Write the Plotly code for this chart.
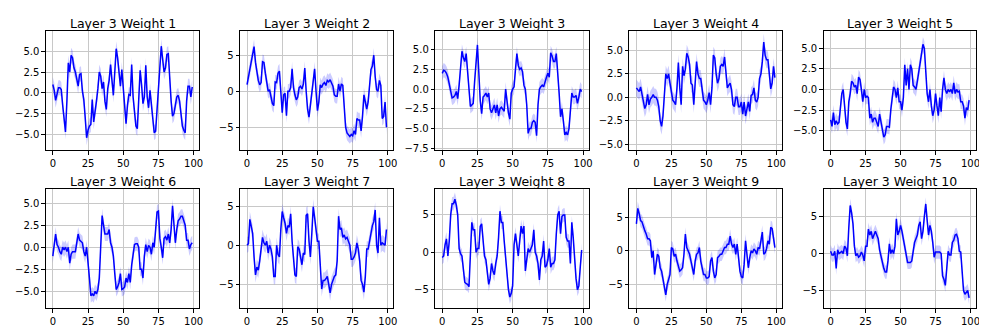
import plotly.graph_objects as go
from plotly.subplots import make_subplots

steps = list(range(100))

weight_1 = [1.0, 0.3, -0.9, -0.3, 0.6, 0.6, 0.4, -1.5, -3.5, -4.7,
            -1.0, 3.6, 2.5, 4.5, 4.2, 3.0, 2.5, 1.5, 0.8, 2.2,
            2.3, 0.2, -0.8, -3.0, -5.4, -4.5, -4.0, -3.8, -0.8, -3.5,
            -2.5, -1.0, 0.5, 2.5, 2.0, 0.5, 1.3, -1.0, -2.0, 0.5,
            1.5, 3.4, 1.5, -0.3, 2.5, 5.3, 4.2, 2.0, 0.8, 2.8,
            0.5, -1.5, -3.7, -1.5, -0.2, -0.3, 3.4, -0.5, -2.5, -4.0,
            -4.3, -1.5, 2.7, 1.0, -1.3, -0.5, 3.3, -0.5, -1.8, 0.3,
            -1.5, -3.5, -4.8, -4.6, -2.0, 1.5, 3.5, 5.6, 4.0, 2.5,
            3.0, 4.6, 4.7, 1.5, -1.0, -2.8, -2.5, -1.5, -0.5, -0.3,
            -1.0, -2.5, -4.0, -4.5, -4.8, -1.0, 0.8, 0.8, -0.5, 0.7]

weight_2 = [0.9, 2.0, 3.0, 4.0, 5.5, 6.2, 4.0, 2.5, 1.5, 0.9,
            1.2, 4.1, 4.0, 2.5, 1.0, 0.0, 0.2, -1.0, -1.7, -2.0,
            1.3, 1.2, 2.5, 2.8, -0.5, -3.0, -0.5, -0.3, -3.4, 0.0,
            0.0, 0.5, 3.1, 0.5, -0.5, -1.2, -0.8, 0.5, 0.7, 0.3,
            1.0, 3.2, 0.0, -2.5, -3.6, -2.0, -0.5, 1.0, 3.1, 0.0,
            -2.7, -1.5, 0.9, 0.5, 1.0, 1.2, 0.8, 1.5, 1.3, 1.6,
            1.0, 0.7, -0.5, -0.7, -0.7, 1.0, 0.0, 1.0, 0.8, -2.0,
            -5.0, -5.8, -6.0, -6.3, -6.0, -6.2, -5.5, -6.0, -3.8, -4.0,
            -4.0, -5.5, -3.5, -0.5, -1.5, -2.5, -1.5, 1.0, 3.0, 3.5,
            5.0, 2.0, 0.2, 0.0, 1.5, 0.8, -3.8, -3.5, -1.5, -5.0]

weight_3 = [2.0, 2.4, 2.3, 2.0, 1.5, 0.5, -0.5, -1.1, -1.0, -0.8,
            -0.3, -1.2, 0.5, 2.5, 4.8, 4.0, 3.5, 4.5, 2.5, 0.5,
            -2.2, -2.0, -1.8, 1.0, 4.0, 5.6, 2.0, -1.5, -3.1, -1.0,
            -0.8, -0.5, -1.0, -0.5, -2.5, -3.0, -2.5, -2.0, -3.0, -2.0,
            -3.4, -2.5, -2.3, -2.5, -2.8, 0.0, -2.0, -3.0, -3.8, -0.5,
            0.0, 0.3, 2.5, 4.5, 3.0, 2.5, 2.7, 2.2, 0.5, 0.0,
            -2.0, -5.6, -5.0, -5.0, -4.2, -4.0, -4.2, -5.9, -2.0, 0.0,
            0.3, 0.5, 0.3, 1.0, 1.5, 2.0, 1.5, 4.6, 4.2, 3.5,
            3.5, 4.5, 2.5, -0.5, -3.5, -2.5, -4.0, -5.8, -5.5, -5.8,
            -5.0, -3.0, -0.5, -1.0, -1.0, -0.8, -1.8, -1.0, 0.0, -0.3]

weight_4 = [1.0, 0.8, 0.6, 1.1, 0.3, -0.5, -1.2, -0.8, 0.3, -0.8,
            -0.2, 0.0, 0.3, 0.0, 0.0, -0.3, -1.0, -2.5, -3.1, -2.0,
            1.0, 2.5, 2.0, 2.5, 1.5, 0.3, -0.3, -0.5, -0.8, 1.0,
            3.7, 1.0, -0.8, 3.3, 2.3, 3.0, 4.7, 4.3, 3.5, 1.5,
            1.3, -0.8, 2.0, 3.8, 2.5, 2.0, 2.0, 0.5, -0.3, -0.5,
            -0.8, -0.3, 0.5, -0.8, 1.0, 4.5, 4.2, 2.5, 1.5, 2.0,
            3.3, 3.5, 3.3, 4.3, 2.5, 1.0, 1.3, 1.5, 0.8, -0.8,
            -1.0, 0.0, 0.0, -1.0, -1.0, -0.5, -1.8, -0.5, -2.0, -1.0,
            -0.5, -1.5, 0.2, 0.3, 1.0, -0.3, -0.5, 0.0, 2.0, 2.5,
            3.8, 5.9, 4.5, 4.0, 4.0, 2.5, 0.9, 1.5, 3.3, 2.1]

weight_5 = [-3.7, -4.5, -2.8, -4.3, -3.8, -4.2, -4.0, -2.5, -0.5, 0.0,
            -2.0, -4.0, -4.8, -1.5, -0.5, 1.0, 0.8, 0.3, 0.5, -0.5,
            1.5, 1.2, 0.0, -1.5, 0.0, -1.0, -0.8, -1.0, -3.5, -3.0,
            -4.0, -3.5, -3.5, -4.0, -4.5, -3.0, -4.0, -5.0, -5.8, -5.5,
            -4.5, -4.5, -4.6, -2.5, -1.0, 0.3, 0.0, -1.0, 0.2, -1.5,
            -1.5, -2.5, -1.0, 3.0, 0.5, 2.5, 0.0, 3.0, 2.5, 0.5,
            0.3, 0.0, 1.0, 2.0, 3.0, 4.5, 5.5, 5.0, 2.0, -0.5,
            -1.5, 0.0, -2.0, -3.2, -2.5, -0.5, -2.0, -3.2, -1.0, -2.7,
            0.0, 1.4, 0.0, -0.5, 0.0, -0.3, 0.0, -0.5, 0.8, -0.5,
            0.0, -0.3, -0.2, -1.5, -1.5, -2.0, -3.5, -2.2, -2.5, -1.3]

weight_6 = [-1.0, 0.5, 1.5, 0.3, 0.0, -0.5, -0.8, 0.0, -0.3, 0.0,
            -0.5, 0.0, -1.8, -0.8, -0.5, -0.5, -0.5, 0.5, 1.5, 0.8,
            0.6, 0.5, -0.5, -1.0, 0.0, -1.5, -3.5, -5.5, -5.3, -5.5,
            -5.0, -5.3, -4.8, -3.5, 0.0, 3.6, 2.5, 1.5, 1.5, 1.5,
            2.0, 0.5, 0.0, -1.0, -3.0, -4.8, -4.5, -4.0, -3.0, -4.8,
            -4.7, -4.5, -3.5, -4.0, -3.0, -4.0, -2.0, -0.5, 0.3, 0.4,
            0.4, 0.0, -2.5, -2.5, -3.5, -1.0, 0.3, -0.5, 0.2, 0.0,
            -0.8, 0.5, 0.0, 2.0, 4.0, 4.1, 1.0, 0.0, -1.2, 1.0,
            1.2, 0.8, 1.5, 0.5, 2.0, 4.7, 2.0, 0.5, 2.0, 3.0,
            3.2, 3.5, 3.5, 3.0, 2.5, 0.8, 0.8, -0.2, 0.3, 0.5]

weight_7 = [0.0, 0.2, 3.3, 2.5, 1.5, -1.5, -3.8, -2.8, -3.2, -2.0,
            0.0, 1.0, 0.3, 0.0, 0.5, -1.0, 0.0, -0.5, -1.5, -4.0,
            -4.0, 0.0, -1.2, -1.5, 2.0, 4.3, 3.5, 2.8, 1.5, 2.5,
            2.3, 4.0, 0.5, -2.0, -3.8, -4.0, -0.2, -0.5, -1.5, -2.5,
            -1.0, -1.2, 3.8, 4.0, 0.5, -1.5, 1.5, 4.9, 3.5, 2.0,
            0.5, 0.5, -2.0, -5.6, -4.5, -4.5, -4.3, -4.0, -5.0, -6.1,
            -5.0, -4.5, -4.0, -3.8, -2.0, 3.7, 2.0, 2.2, 1.0, 1.3,
            0.8, 1.0, 0.5, 0.0, -1.8, -1.8, -1.5, -1.0, 0.3, -0.5,
            -2.0, -4.5, -5.0, -6.0, -4.0, -0.5, -0.5, 0.5, 2.0, 2.5,
            3.0, 4.5, 0.0, -1.0, 3.5, 0.0, 0.3, 0.2, 0.0, 2.0]

weight_8 = [-0.7, -0.5, 1.0, 1.8, -0.5, 1.5, 5.0, 6.5, 6.5, 7.1,
            6.3, 5.0, 0.5, -0.2, -0.5, -2.0, -4.0, -4.2, -4.3, -4.6,
            0.5, 4.0, 3.0, 3.0, 0.0, 0.5, 0.5, 3.5, 3.8, 1.0,
            -0.5, -1.0, -2.5, -4.3, -3.5, -1.5, -2.5, -3.0, -1.5, -0.5,
            2.0, 5.5, 4.0, 4.0, 1.5, -1.0, -3.0, -5.0, -6.0, -5.5,
            -4.5, 1.0, 2.5, 1.0, -0.5, 1.5, 3.5, 2.5, 3.5, -2.5,
            -0.5, 0.5, 0.0, 0.5, 1.0, 3.0, 0.0, -0.5, -1.5, -3.7,
            -1.0, -0.5, 1.5, -2.0, -1.8, -1.0, 0.5, -2.0, -1.5, -1.5,
            -1.0, 2.5, 5.0, 5.5, 2.5, 4.8, 5.0, 5.0, 2.0, 1.5,
            1.5, -1.5, 4.0, 2.0, -1.5, -3.5, -5.0, -4.5, -2.0, 0.3]

weight_9 = [4.0, 6.3, 5.5, 4.5, 4.3, 3.5, 3.0, 2.5, 1.8, 1.8,
            1.5, -1.0, 0.0, -3.5, -1.5, -0.5, -0.8, -2.5, -3.0, -4.0,
            -5.5, -6.5, -5.0, -4.0, -3.5, 0.5, 0.3, -0.8, -0.5, -1.5,
            -2.5, -3.0, -2.8, -2.5, -0.5, 2.5, 0.5, 0.0, -0.5, -1.5,
            -2.5, -3.5, -1.5, -0.5, -0.3, 0.5, -1.5, -2.5, -3.5, -3.5,
            -4.0, -4.0, -3.8, -1.5, -1.0, -3.0, -4.0, -3.5, -1.0, -0.8,
            -0.5, -0.5, 0.0, 0.5, 0.5, 1.0, 1.0, 2.2, 1.0, 0.5,
            1.0, -0.5, 1.0, -1.5, -3.0, -3.8, -4.0, -2.0, 1.5, -0.5,
            -2.5, -1.0, 0.0, -0.3, 0.3, 0.0, -0.5, 0.5, 0.3, 1.5,
            2.8, -0.5, -0.3, 0.3, 1.5, 1.0, 3.5, 3.3, 1.5, 0.5]

weight_10 = [0.3, -0.2, -0.2, 0.3, -2.0, 0.5, 0.0, 0.2, 0.3, 0.0,
             1.0, 0.7, -0.3, 3.5, 6.5, 5.5, 4.0, 1.0, -0.3, 0.0,
             -0.5, -0.3, 0.2, -0.2, -1.0, 1.0, 1.0, 3.3, 2.5, 3.0,
             2.0, 2.5, 3.0, 2.5, 2.0, 0.5, -0.5, -1.5, -2.0, -2.5,
             -2.5, -1.0, 1.3, 0.0, 0.5, 0.0, 1.0, 4.7, 2.5, 3.0,
             3.8, 3.0, 2.0, 1.0, 0.0, -1.2, -1.2, -1.2, -1.0, 0.5,
             1.5, 2.0, 2.5, 3.8, 4.3, 2.0, 3.0, 5.0, 6.7, 4.5,
             2.5, 3.8, 3.0, 1.5, -0.5, 0.2, 0.2, 0.2, 0.2, 0.0,
             -3.0, -3.5, -4.3, -2.0, 0.3, -0.2, -0.2, 1.5, 1.8, 2.5,
             2.6, 2.0, 0.3, 0.2, -2.0, -5.0, -5.5, -5.3, -5.0, -6.0]

weights = [weight_1, weight_2, weight_3, weight_4, weight_5,
           weight_6, weight_7, weight_8, weight_9, weight_10]
titles = ["Layer 3 Weight %d" % (i + 1) for i in range(10)]
band_spread = [0.9, 1.0, 0.9, 0.9, 0.9, 0.8, 1.0, 0.9, 1.0, 0.9]

y_ranges = [[-6.9, 7.46], [-8.2, 8.4], [-7.74, 7.4], [-5.65, 7.1], [-7.4, 7.15],
            [-6.93, 6.63], [-8.06, 7.2], [-7.5, 8.5], [-8.5, 9.2], [-7.4, 8.75]]
y_dticks = [2.5, 5, 2.5, 2.5, 2.5, 2.5, 5, 5, 5, 5]

W, H = 987, 329
lefts = [38, 233, 429, 624, 819]
rights = [192, 387, 583, 777, 972]
tops = [23, 183]
bottoms = [144, 304]
title_y = [16, 176]

fig = make_subplots(rows=2, cols=5)
annotations = []
for i, ys in enumerate(weights):
    r, c = i // 5, i % 5
    upper = [v + band_spread[i] for v in ys]
    lower = [v - band_spread[i] for v in ys]
    fig.add_trace(go.Scatter(x=steps, y=upper, mode='lines', line={'width': 0},
                             hoverinfo='skip', showlegend=False), row=r + 1, col=c + 1)
    fig.add_trace(go.Scatter(x=steps, y=lower, mode='lines', line={'width': 0},
                             fill='tonexty', fillcolor='rgba(0,0,255,0.2)',
                             hoverinfo='skip', showlegend=False), row=r + 1, col=c + 1)
    fig.add_trace(go.Scatter(x=steps, y=ys, mode='lines',
                             line={'color': '#0000ff', 'width': 1.5},
                             showlegend=False), row=r + 1, col=c + 1)

    dt = y_dticks[i]
    fig.update_xaxes(domain=[lefts[c] / W, rights[c] / W], range=[-4.95, 103.95],
                     tickvals=[0, 25, 50, 75, 100], row=r + 1, col=c + 1)
    fig.update_yaxes(domain=[1 - bottoms[r] / H, 1 - tops[r] / H], range=y_ranges[i],
                     dtick=dt, tick0=0, tickformat='.1f' if dt == 2.5 else 'd',
                     row=r + 1, col=c + 1)
    annotations.append(dict(text=titles[i], xref='paper', yref='paper',
                            x=(lefts[c] + rights[c]) / 2 / W, y=1 - title_y[r] / H,
                            xanchor='center', yanchor='middle', showarrow=False,
                            font={'size': 12.5, 'color': 'black'}))

fig.update_xaxes(showline=True, linecolor='black', linewidth=1, mirror=True,
                 ticks='outside', ticklen=3.5, tickcolor='black', tickwidth=0.8,
                 showgrid=True, gridcolor='#c8c8c8', gridwidth=0.8, zeroline=False,
                 tickfont={'size': 10, 'color': 'black'})
fig.update_yaxes(showline=True, linecolor='black', linewidth=1, mirror=True,
                 ticks='outside', ticklen=3.5, tickcolor='black', tickwidth=0.8,
                 showgrid=True, gridcolor='#c8c8c8', gridwidth=0.8, zeroline=False,
                 tickfont={'size': 10, 'color': 'black'})

fig.update_layout(width=W, height=H, margin={'l': 0, 'r': 0, 't': 0, 'b': 0},
                  paper_bgcolor='white', plot_bgcolor='white',
                  font={'family': 'DejaVu Sans', 'color': 'black'},
                  annotations=annotations)

fig.write_html("out.html")
